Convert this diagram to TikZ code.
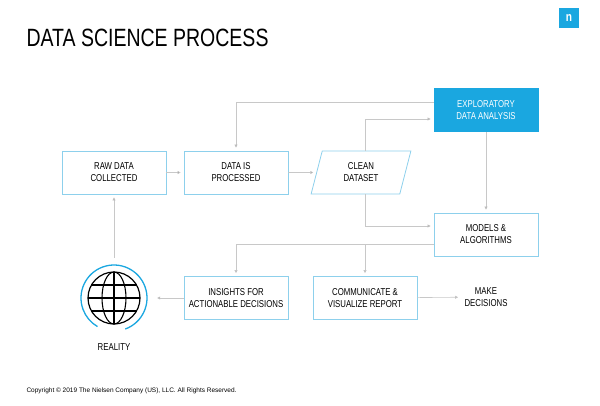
\documentclass[tikz,border=0pt]{standalone}
\usepackage{fontspec}
\setmainfont{Liberation Sans}[FakeStretch=0.78]
\newfontfamily\plainsans{Liberation Sans}
\usetikzlibrary{arrows.meta,shapes.geometric}
\definecolor{nblue}{HTML}{1AA7E0}
\definecolor{lblue}{HTML}{8DD0EC}
\definecolor{ln}{HTML}{C8C8C8}
\begin{document}
\begin{tikzpicture}[x=1pt,y=-1pt,
 box/.style={draw=lblue,line width=0.8pt,minimum width=104pt,minimum height=43pt,align=center,font=\fontsize{10}{12}\selectfont},
 con/.style={draw=ln,line width=0.6pt,shorten >=3pt,-{Triangle[length=3pt,width=3pt,fill=gray]}}]
\useasboundingbox (0,0) rectangle (600,405);
\node[anchor=west,font=\fontsize{25}{27}\selectfont] (title) at (23,38) {DATA SCIENCE PROCESS};
\node[fill=nblue,minimum size=20pt,inner sep=0pt,text=white,font=\bfseries\fontsize{13}{13}\selectfont] (logo) at (569,18) {n};
\node[box] (raw) at (114,172.5) {RAW DATA\\COLLECTED};
\node[box] (proc) at (236,172.5) {DATA IS\\PROCESSED};
\node[box,trapezium,trapezium left angle=77,trapezium right angle=103,minimum width=100pt,trapezium stretches=true,minimum height=43pt] (clean) at (361,172.5) {CLEAN\\DATASET};
\node[box,fill=nblue,draw=nblue,text=white] (eda) at (486,110) {EXPLORATORY\\DATA ANALYSIS};
\node[box] (mod) at (486,234.5) {MODELS \&\\ALGORITHMS};
\node[box] (ins) at (236,298) {INSIGHTS FOR\\ACTIONABLE DECISIONS};
\node[box] (com) at (365,298) {COMMUNICATE \&\\VISUALIZE REPORT};
\node[align=center,font=\fontsize{10}{12}\selectfont] (make) at (486,297) {MAKE\\DECISIONS};
\coordinate (g) at (114,298);
\node[circle,minimum size=80pt,inner sep=0pt] (globe) at (g) {};
\draw[nblue,line width=1.3pt] (114,298) ++(70:33) arc (70:-240:33);
\draw[line width=1.2pt] (g) circle (26);
\draw[line width=1.1pt] (g) ellipse (12 and 26);
\draw[line width=1.1pt] (88,298) -- (140,298) (114,272) -- (114,324);
\draw[line width=1.1pt] (91,285) -- (137,285) (91,311) -- (137,311);
\node[font=\fontsize{10}{12}\selectfont] (real) at (114,347) {REALITY};
\node[anchor=west,font=\plainsans\fontsize{6.5}{8}\selectfont] (copy) at (23,391) {Copyright © 2019 The Nielsen Company (US), LLC. All Rights Reserved.};
\draw[con] (365,151) -- (365,119) -- (eda.west |- 0,119);
\draw[con] (raw) -- (proc);
\draw[con] (proc) -- (clean);
\draw[con] (eda.west |- 0,102) -- (236,102) -- (proc.north);
\draw[con] (eda) -- (mod);
\draw[con] (365,194) -- (365,226) -- (mod.west |- 0,226);
\draw[con] (mod.west |- 0,244) -- (236,244) -- (ins.north);
\draw[con] (365,244) -- (com.north);
\draw[con] (ins) -- (globe);
\draw[con] (com) -- (make);
\draw[con] (globe) -- (raw);
\end{tikzpicture}
\end{document}
